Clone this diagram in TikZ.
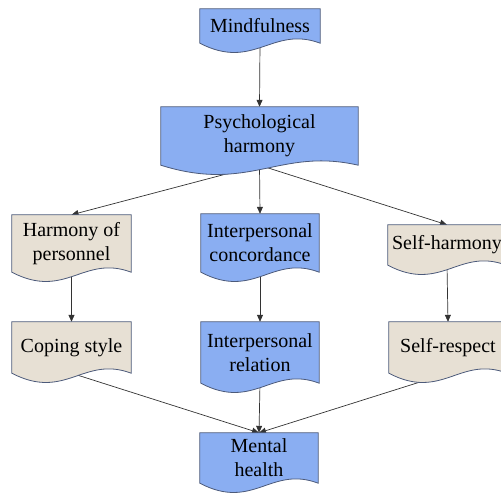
\documentclass[tikz,border=0pt]{standalone}
\usepackage{fontspec}
\setmainfont{Liberation Serif}
\newfontfamily\boxfont{Liberation Serif}
\usetikzlibrary{calc,arrows.meta}
\pgfdeclarelayer{edgelayer}
\pgfdeclarelayer{shapelayer}
\pgfsetlayers{edgelayer,shapelayer,main}
\definecolor{boxblue}{HTML}{8AAEF2}
\definecolor{boxbeige}{HTML}{E7E0D4}
\definecolor{boxline}{HTML}{4C5A7A}
\tikzset{
  box/.style={rectangle, inner sep=0pt, align=center, text=black,
    font=\boxfont\fontsize{20}{24}\selectfont},
  conn/.style={draw=black!80, line width=0.7pt, -{Triangle[length=7pt,width=6pt]}},
  docline/.style={draw=boxline, line width=0.8pt}
}
\newcommand\mydocbox[2]{%
  \begin{pgfonlayer}{shapelayer}
  \filldraw[docline, fill=#2] (#1.north west) -- (#1.north east) -- (#1.south east)
    .. controls ($(#1.south west)!0.6!(#1.south east)+(0,-18)$) and ($(#1.south west)!0.45!(#1.south east)+(0,28)$) .. (#1.south west) -- cycle;
  \end{pgfonlayer}}
\begin{document}
\begin{tikzpicture}[x=1pt,y=-1pt]
\useasboundingbox (0,0) rectangle (501,495);
\node[box, minimum width=120pt, minimum height=34pt] (mind) at (260,26) {Mindfulness};
\node[box, minimum width=197pt, minimum height=58pt] (psych) at (259.5,136) {Psychological\\harmony};
\node[box, minimum width=119pt, minimum height=57pt] (hp) at (71.5,243.5) {Harmony of\\personnel};
\node[box, minimum width=118pt, minimum height=58pt] (ic) at (260,243) {Interpersonal\\concordance};
\node[box, minimum width=118pt, minimum height=40pt] (sh) at (447,245) {Self-harmony};
\node[box, minimum width=119pt, minimum height=51pt] (cs) at (71.5,347.5) {Coping style};
\node[box, minimum width=118pt, minimum height=61pt] (ir) at (260,352.5) {Interpersonal\\relation};
\node[box, minimum width=118pt, minimum height=51pt] (sr) at (448,347.5) {Self-respect};
\node[box, minimum width=118pt, minimum height=50pt] (mh) at (259,458) {Mental\\health};
\mydocbox{mind}{boxblue}
\mydocbox{psych}{boxblue}
\mydocbox{hp}{boxbeige}
\mydocbox{ic}{boxblue}
\mydocbox{sh}{boxbeige}
\mydocbox{cs}{boxbeige}
\mydocbox{ir}{boxblue}
\mydocbox{sr}{boxbeige}
\mydocbox{mh}{boxblue}
\begin{pgfonlayer}{edgelayer}
\draw[conn] (mind.south) -- (psych.north);
\draw[conn] (psych.south) -- (hp.north);
\draw[conn] (psych.south) -- (ic.north);
\draw[conn] (psych.south) -- (sh.north);
\draw[conn] (hp.south) -- (cs.north);
\draw[conn] (ic.south) -- (ir.north);
\draw[conn] (sh.south) -- (sr.north);
\draw[conn] (cs.south) -- (mh.north);
\draw[conn] (ir.south) -- (mh.north);
\draw[conn] (sr.south) -- (mh.north);
\end{pgfonlayer}
\end{tikzpicture}
\end{document}
